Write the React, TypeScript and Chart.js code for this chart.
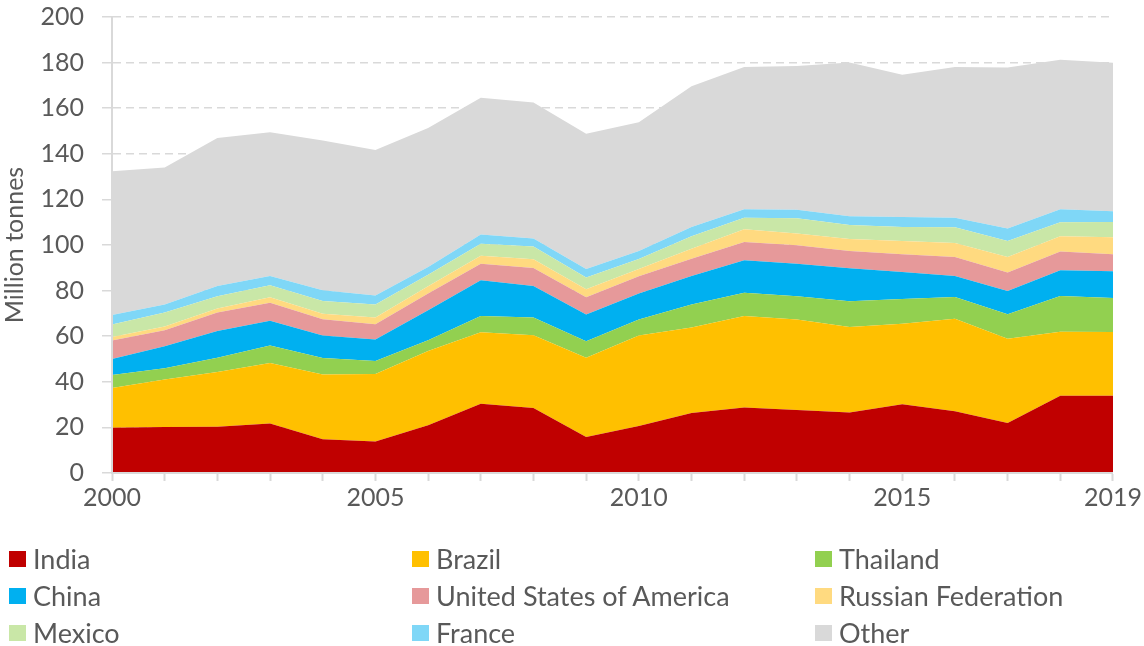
import React, { useEffect, useRef } from "react";
import { Chart, registerables } from "chart.js";

Chart.register(...registerables);

const years = ["2000","2001","2002","2003","2004","2005","2006","2007","2008","2009","2010","2011","2012","2013","2014","2015","2016","2017","2018","2019"];
const shownYears = ["2000", "2005", "2010", "2015", "2019"];

const india = [19.9, 20.2, 20.3, 21.7, 14.8, 13.8, 20.9, 30.4, 28.5, 15.8, 20.6, 26.3, 28.7, 27.6, 26.5, 30.1, 27.1, 21.9, 33.9, 33.9];
const brazil = [17.4, 20.8, 24.0, 26.5, 28.4, 29.6, 32.6, 31.3, 31.9, 34.8, 39.7, 37.5, 40.2, 39.7, 37.5, 35.4, 40.6, 37.0, 28.1, 27.9];
const thailand = [5.7, 4.9, 6.3, 7.7, 7.2, 5.7, 4.7, 7.2, 7.8, 7.2, 7.0, 10.1, 10.2, 10.2, 11.3, 10.8, 9.5, 10.7, 15.6, 15.0];
const china = [7.0, 9.7, 11.7, 10.9, 9.9, 9.4, 13.2, 15.6, 13.8, 11.7, 11.4, 12.5, 14.2, 14.3, 14.5, 11.9, 9.2, 10.2, 11.3, 11.7];
const usa = [8.1, 7.0, 8.1, 7.9, 7.1, 6.7, 7.3, 7.3, 7.9, 7.6, 7.6, 7.6, 8.0, 8.1, 7.6, 7.7, 8.3, 8.1, 8.3, 7.4];
const russia = [1.5, 1.7, 1.7, 2.4, 2.5, 3.0, 3.2, 3.5, 3.8, 3.5, 3.2, 4.4, 5.6, 5.1, 5.2, 5.9, 6.2, 6.8, 6.6, 7.5];
const mexico = [5.5, 6.1, 5.4, 5.2, 5.5, 5.7, 5.1, 5.3, 5.6, 5.1, 4.4, 5.4, 5.1, 6.7, 6.2, 6.1, 6.9, 7.1, 6.2, 6.7];
const france = [4.2, 3.5, 4.5, 4.1, 4.7, 4.0, 3.4, 4.0, 3.6, 3.8, 3.5, 4.1, 3.7, 3.8, 3.8, 4.4, 4.2, 5.4, 5.7, 4.7];
const other = [63.0, 60.1, 64.9, 63.0, 65.7, 63.8, 60.9, 60.0, 59.6, 59.3, 56.4, 61.7, 62.4, 63.0, 67.4, 62.4, 66.1, 70.6, 65.6, 65.1];

const seriesNames = ["India", "Brazil", "Thailand", "China", "United States of America", "Russian Federation", "Mexico", "France", "Other"];
const seriesValues = [india, brazil, thailand, china, usa, russia, mexico, france, other];
const seriesColors = ["#C00000", "#FFC000", "#92D050", "#00B0F0", "#E6999A", "#FFDA80", "#C9E7A7", "#7FD7F7", "#D9D9D9"];

const FONT = "Lato, 'Open Sans', sans-serif";
const TEXT = "#595959";
const AXIS = "#D9D9D9";

export default function App() {
  const ref = useRef<HTMLCanvasElement | null>(null);

  useEffect(() => {
    if (!ref.current) return;
    const chart = new Chart(ref.current, {
      type: "line",
      data: {
        labels: years,
        datasets: seriesNames.map((name, i) => ({
          label: name,
          data: seriesValues[i],
          backgroundColor: seriesColors[i],
          borderColor: seriesColors[i],
          borderWidth: 0,
          pointRadius: 0,
          fill: i === 0 ? "origin" : "-1",
          tension: 0,
        })),
      },
      options: {
        responsive: false,
        animation: false,
        events: [],
        layout: { padding: { top: 17, right: 31, left: 0, bottom: 0 } },
        plugins: { legend: { display: false }, tooltip: { enabled: false } },
        scales: {
          x: {
            type: "category",
            offset: false,
            grid: {
              drawOnChartArea: false,
              drawTicks: true,
              tickLength: 8,
              tickColor: AXIS,
              tickWidth: 2,
            },
            border: { display: true, color: AXIS, width: 2, z: 1 },
            ticks: {
              autoSkip: false,
              maxRotation: 0,
              minRotation: 0,
              padding: 2,
              color: TEXT,
              font: { family: FONT, size: 25 },
              callback: function (_v: any, idx: number) {
                const y = years[idx];
                return shownYears.includes(y) ? y : "";
              },
            },
            afterFit: (s: any) => {
              s.height = 646 - 473;
            },
          },
          y: {
            stacked: true,
            min: 0,
            max: 200,
            ticks: {
              stepSize: 20,
              padding: 18,
              color: TEXT,
              font: { family: FONT, size: 25 },
            },
            grid: {
              color: AXIS,
              lineWidth: 1.5,
              drawTicks: true,
              tickLength: 10,
              tickColor: AXIS,
              tickWidth: 1.5,
              tickBorderDash: [],
            },
            border: { display: true, color: AXIS, width: 2, z: 1, dash: [8, 5] },
            title: {
              display: true,
              text: "Million tonnes",
              color: TEXT,
              font: { family: FONT, size: 25 },
              padding: { top: 0, bottom: 0 },
            },
            afterFit: (s: any) => {
              s.width = 112;
              s.paddingTop = 0;
              s.paddingBottom = 0;
            },
          },
        },
      },
    } as any);
    return () => chart.destroy();
  }, []);

  const colX = [9, 412, 815];
  const rowY = [558.5, 595.5, 632.5];

  return (
    <div style={{ position: "absolute", left: 0, top: 0, width: 1144, height: 646, background: "#fff" }}>
      <canvas ref={ref} width={1144} height={646} style={{ position: "absolute", left: 0, top: 0, width: 1144, height: 646 }} />
      {seriesNames.map((name, i) => {
        const col = i % 3;
        const row = Math.floor(i / 3);
        return (
          <div
            key={name}
            style={{
              position: "absolute",
              left: colX[col],
              top: rowY[row] - 16,
              height: 32,
              display: "flex",
              alignItems: "center",
              fontFamily: FONT,
              fontSize: 27,
              color: TEXT,
              whiteSpace: "nowrap",
            }}
          >
            <span style={{ display: "inline-block", width: 17, height: 16, background: seriesColors[i], marginRight: 7 }} />
            <span>{name}</span>
          </div>
        );
      })}
    </div>
  );
}
